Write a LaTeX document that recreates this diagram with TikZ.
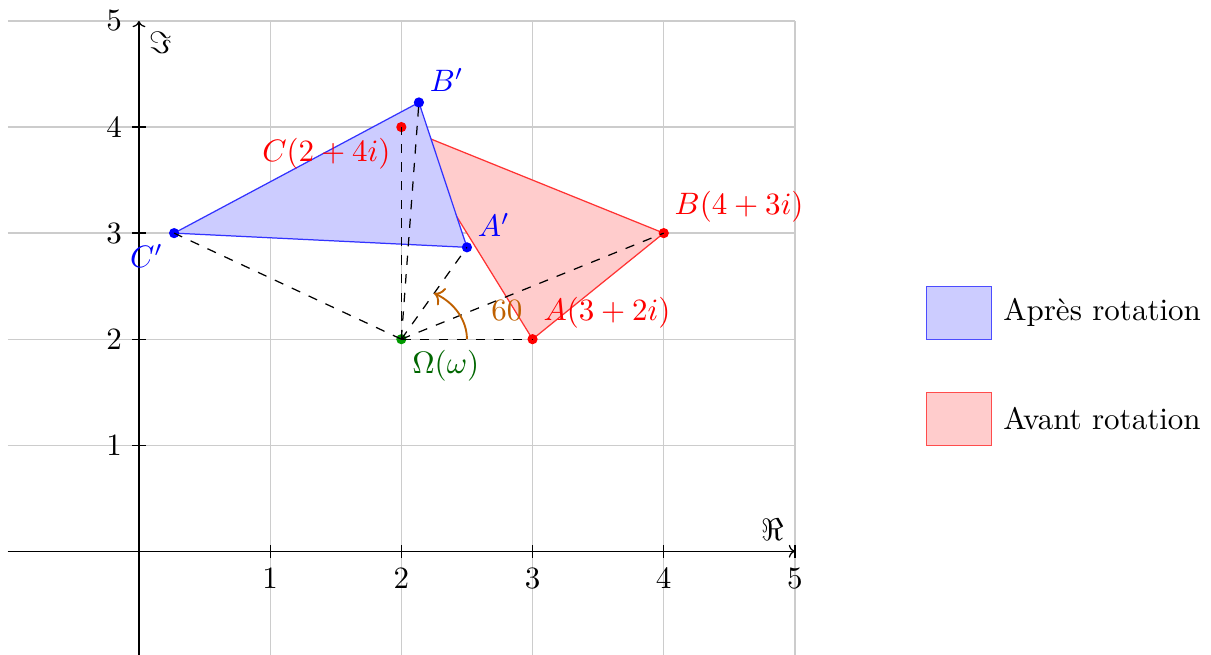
\documentclass[tikz,border=0pt]{standalone}
\usepackage{amssymb,amsmath}
\usetikzlibrary{positioning}
\usetikzlibrary{arrows.meta}
\tikzset{circ/.style = {fill, circle, inner sep = 0, minimum size = 3.3pt}}
\tikzset{legbox/.style = {rectangle, minimum width = 0.7435cm, minimum height = 0.601cm, inner sep = 0}}
\tikzset{gridline/.style = {gray!40, line width = 0.4pt}}
\tikzset{guide/.style = {dashed, black}}
\tikzset{anglearc/.style = {orange!75!black, semithick, ->}}

\begin{document}
\begin{tikzpicture}[x=1.487cm, y=1.202cm]
      \useasboundingbox (-1.059,-0.972) rectangle (8.171,5.198);

      \draw[gridline, step={(1,1)}] (-0.999,-1) grid (5,5);

      \coordinate (xmin) at (-1,0);
      \coordinate (xmax) at (5,0);
      \coordinate (ymin) at (0,-1);
      \coordinate (ymax) at (0,5);
      \draw[-{To[scale=0.8]}] (xmin) -- (xmax);
      \draw[-{To[scale=0.8]}] (ymin) -- (ymax);
      \node[above left] (re) at (xmax) {$\Re$};
      \node[below right] (im) at (ymax) {$\Im$};

      \draw (1,-0.06) -- (1,0.06);
      \draw (2,-0.06) -- (2,0.06);
      \draw (3,-0.06) -- (3,0.06);
      \draw (4,-0.06) -- (4,0.06);
      \draw (5,-0.06) -- (5,0.06);
      \draw (-0.05,1) -- (0.05,1);
      \draw (-0.05,2) -- (0.05,2);
      \draw (-0.05,3) -- (0.05,3);
      \draw (-0.05,4) -- (0.05,4);

      \node[below=2pt] (x1) at (1,0) {$1$};
      \node[below=2pt] (x2) at (2,0) {$2$};
      \node[below=2pt] (x3) at (3,0) {$3$};
      \node[below=2pt] (x4) at (4,0) {$4$};
      \node[below=2pt] (x5) at (5,0) {$5$};
      \node[left=2pt] (y1) at (0,1) {$1$};
      \node[left=2pt] (y2) at (0,2) {$2$};
      \node[left=2pt] (y3) at (0,3) {$3$};
      \node[left=2pt] (y4) at (0,4) {$4$};
      \node[left=2pt] (y5) at (0,5) {$5$};

      % points
      \coordinate (O) at (2,2);
      \coordinate (A) at (3,2);
      \coordinate (B) at (4,3);
      \coordinate (C) at (2,4);
      \coordinate (Ap) at (2.5,2.866);
      \coordinate (Bp) at (2.134,4.232);
      \coordinate (Cp) at (0.268,3);

      \filldraw[fill=red!20, draw=red!80] (A) -- (B) -- (C) -- cycle;
      \filldraw[fill=blue!20, draw=blue!80] (Ap) -- (Bp) -- (Cp) -- cycle;

      \node[circ, fill=green!60!black] (dotO) at (O) {};
      \node[circ, fill=red] (dotA) at (A) {};
      \node[circ, fill=red] (dotB) at (B) {};
      \node[circ, fill=red] (dotC) at (C) {};
      \node[circ, fill=blue] (dotAp) at (Ap) {};
      \node[circ, fill=blue] (dotBp) at (Bp) {};
      \node[circ, fill=blue] (dotCp) at (Cp) {};

      \draw[guide] (O) -- (A);
      \draw[guide] (O) -- (B);
      \draw[guide] (O) -- (C);
      \draw[guide] (O) -- (Ap);
      \draw[guide] (O) -- (Bp);
      \draw[guide] (O) -- (Cp);

      % angle
      \coordinate (arcA) at (2.5,2);
      \draw[anglearc] (arcA) arc[start angle=0, end angle=60, x radius=0.5, y radius=0.5];
      \node[orange!75!black] (ang) at (2.805,2.274) {$60$};

      \node[below right, green!40!black] (labO) at (O) {$\Omega(\omega)$};
      \node[above right, red] (labA) at (A) {$A(3+2i)$};
      \node[above right, red] (labB) at (B) {$B(4+3i)$};
      \node[below left, red] (labC) at (C) {$C(2+4i)$};
      \node[above right, blue] (labAp) at (Ap) {$A'$};
      \node[above right, blue] (labBp) at (Bp) {$B'$};
      \node[below left, blue] (labCp) at (Cp) {$C'$};

      % legend
      \node[legbox, fill=blue!20, draw=blue!70] (apres) at (6.25,2.25) {};
      \node[right=0pt of apres] (apresT) {Après rotation};
      \node[legbox, fill=red!20, draw=red!70] (avant) at (6.25,1.25) {};
      \node[right=0pt of avant] (avantT) {Avant rotation};
  \end{tikzpicture}
\end{document}
